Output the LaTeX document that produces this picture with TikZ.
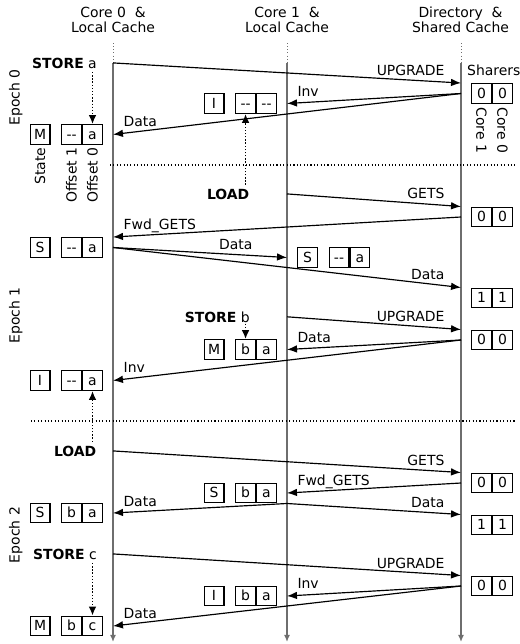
\documentclass[tikz,border=0pt]{standalone}
\usepackage{fontspec}
\setmainfont{DejaVu Sans}
\usepackage{tikz}
\usetikzlibrary{arrows.meta, positioning}
\definecolor{lifegray}{RGB}{110,110,110}

\begin{document}
\begin{tikzpicture}[
    x=0.03cm, y=-0.03cm,
    every node/.style={font=\fontsize{11.9}{12.8}\selectfont, inner sep=0}
]
    % Define styles for the nodes
    \tikzstyle{cbox} = [
        draw, line width=0.9pt, minimum width=17pt,
        minimum height=17pt, text height=8.5pt, text depth=0pt
    ]
    \tikzstyle{msg} = [line width=1pt, -{Latex[length=8.5pt, width=6.5pt]}]
    \tikzstyle{op} = [
        dash pattern=on 1.2pt off 1.5pt, line width=1.3pt,
        -{Latex[length=7.5pt, width=6.5pt]}
    ]
    \tikzstyle{life} = [lifegray, line width=1.1pt, -{Latex[length=6pt, width=5pt]}]
    \tikzstyle{lifetop} = [lifegray, dotted, line width=0.7pt]
    \tikzstyle{epoch_line} = [dotted, line width=0.9pt]
    \tikzstyle{lbl_r} = [anchor=base east, yshift=5.5pt]
    \tikzstyle{lbl_l} = [anchor=base west, yshift=5.5pt]

    \useasboundingbox (0,0) rectangle (519,644);

    % Headers
    \node[align=center] (h0) at (113,19.5) {Core 0 ~\&\\Local Cache};
    \node[align=center] (h1) at (287,19.5) {Core 1 ~\&\\Local Cache};
    \node[align=center] (hd) at (460.5,19.5) {Directory ~\&\\Shared Cache};

    % Lifelines
    \coordinate (core0top) at (113,43);
    \coordinate (core0) at (113,63);
    \coordinate (core0end) at (113,642);
    \coordinate (core1top) at (287,43);
    \coordinate (core1) at (287,63);
    \coordinate (core1end) at (287,642);
    \coordinate (dirtop) at (461,43);
    \coordinate (dir) at (461,63);
    \coordinate (dirend) at (461,642);
    \draw[lifetop] (core0top) -- (core0);
    \draw[lifetop] (core1top) -- (core1);
    \draw[lifetop] (dirtop) -- (dir);
    \draw[life] (core0) -- (core0end);
    \draw[life] (core1) -- (core1end);
    \draw[life] (dir) -- (dirend);

    % Epoch dividers
    \coordinate (ep1a) at (110,165);
    \coordinate (ep1b) at (515,165);
    \coordinate (ep2a) at (31,421);
    \coordinate (ep2b) at (515,421);
    \draw[epoch_line] (ep1a) -- (ep1b);
    \draw[epoch_line] (ep2a) -- (ep2b);

    % Epoch labels
    \node[rotate=90] (ep0) at (15.7,97.5) {Epoch 0};
    \node[rotate=90] (ep1) at (15.7,315.5) {Epoch 1};
    \node[rotate=90] (ep2) at (15.7,535) {Epoch 2};

    % Directory sharers
    \node[cbox, anchor=west] (dac1) at (471,93.5) {0};
    \node[cbox, anchor=west] (dac0) at (dac1.east) {0};
    \node[cbox, anchor=west] (dbc1) at (471,217) {0};
    \node[cbox, anchor=west] (dbc0) at (dbc1.east) {0};
    \node[cbox, anchor=west] (dcc1) at (471,298) {1};
    \node[cbox, anchor=west] (dcc0) at (dcc1.east) {1};
    \node[cbox, anchor=west] (ddc1) at (471,340) {0};
    \node[cbox, anchor=west] (ddc0) at (ddc1.east) {0};
    \node[cbox, anchor=west] (dec1) at (471,483) {0};
    \node[cbox, anchor=west] (dec0) at (dec1.east) {0};
    \node[cbox, anchor=west] (dfc1) at (471,525) {1};
    \node[cbox, anchor=west] (dfc0) at (dfc1.east) {1};
    \node[cbox, anchor=west] (dgc1) at (471,586) {0};
    \node[cbox, anchor=west] (dgc0) at (dgc1.east) {0};

    % Labels for sharers
    \node[anchor=base west] (sharers) at (467,75) {Sharers};
    \node[rotate=-90, anchor=west] (lcore1) at ([yshift=-3pt]dac1.south) {Core 1};
    \node[rotate=-90, anchor=west] (lcore0) at ([yshift=-3pt]dac0.south) {Core 0};

    % Core 0 cache lines
    \node[cbox, anchor=east] (c0ao0) at (103,134.5) {a};
    \node[cbox, anchor=east] (c0ao1) at (c0ao0.west) {{-}{-}};
    \node[cbox, left=9pt of c0ao1] (c0as) {M};
    \node[cbox, anchor=east] (c0bo0) at (103,247.5) {a};
    \node[cbox, anchor=east] (c0bo1) at (c0bo0.west) {{-}{-}};
    \node[cbox, left=9pt of c0bo1] (c0bs) {S};
    \node[cbox, anchor=east] (c0co0) at (103,380.5) {a};
    \node[cbox, anchor=east] (c0co1) at (c0co0.west) {{-}{-}};
    \node[cbox, left=9pt of c0co1] (c0cs) {I};
    \node[cbox, anchor=east] (c0do0) at (103,513) {a};
    \node[cbox, anchor=east] (c0do1) at (c0do0.west) {b};
    \node[cbox, left=9pt of c0do1] (c0ds) {S};
    \node[cbox, anchor=east] (c0eo0) at (103,626) {c};
    \node[cbox, anchor=east] (c0eo1) at (c0eo0.west) {b};
    \node[cbox, left=9pt of c0eo1] (c0es) {M};

    % Labels for the cache line fields
    \node[rotate=90, anchor=east] (lstate) at ([yshift=-2pt]c0as.south) {State};
    \node[rotate=90, anchor=east] (loff1) at ([yshift=-2pt]c0ao1.south) {Offset 1};
    \node[rotate=90, anchor=east] (loff0) at ([yshift=-2pt]c0ao0.south) {Offset 0};

    % Core 1 cache lines
    \node[cbox, anchor=east] (c1ao0) at (277,103.5) {{-}{-}};
    \node[cbox, anchor=east] (c1ao1) at (c1ao0.west) {{-}{-}};
    \node[cbox, left=9pt of c1ao1] (c1as) {I};
    \node[cbox, anchor=west] (c1bs) at (297,257.5) {S};
    \node[cbox, right=9pt of c1bs] (c1bo1) {{-}{-}};
    \node[cbox, anchor=west] (c1bo0) at (c1bo1.east) {a};
    \node[cbox, anchor=east] (c1co0) at (277,349.5) {a};
    \node[cbox, anchor=east] (c1co1) at (c1co0.west) {b};
    \node[cbox, left=9pt of c1co1] (c1cs) {M};
    \node[cbox, anchor=east] (c1do0) at (277,493) {a};
    \node[cbox, anchor=east] (c1do1) at (c1do0.west) {b};
    \node[cbox, left=9pt of c1do1] (c1ds) {S};
    \node[cbox, anchor=east] (c1eo0) at (277,596) {a};
    \node[cbox, anchor=east] (c1eo1) at (c1eo0.west) {b};
    \node[cbox, left=9pt of c1eo1] (c1es) {I};

    % Core operations
    \node[anchor=base east] (st0) at (97,68) {\textbf{STORE} a};
    \node[anchor=base east] (ld1) at (249.5,199) {\textbf{LOAD}};
    \node[anchor=base east] (st1) at (250,322) {\textbf{STORE} b};
    \node[anchor=base east] (ld2) at (96.5,456) {\textbf{LOAD}};
    \node[anchor=base east] (st2) at (97,559) {\textbf{STORE} c};

    \draw[op, shorten <=3pt] (st0.south -| c0ao0) -- (c0ao0.north);
    \draw[op, shorten <=3pt] (ld1.north -| c1ao1) -- (c1ao1.south);
    \draw[op, shorten <=1pt] (st1.south -| c1co1) -- (c1co1.north);
    \draw[op, shorten <=3pt] (ld2.north -| c0co0) -- (c0co0.south);
    \draw[op, shorten <=3pt] (st2.south -| c0eo0) -- (c0eo0.north);

    % Epoch 0 messages
    \draw[msg] (st0 -| core0) -- (dac1.north -| dir)
        node[lbl_r, pos=0.954] {UPGRADE};
    \draw[msg] (dac1 -| dir) -- (c1ao0 -| core1)
        node[lbl_l, pos=0.943] {Inv};
    \draw[msg] (dac1 -| dir) -- (c0ao0 -| core0)
        node[lbl_l, pos=0.971] {Data};

    % Epoch 1 messages
    \draw[msg] (ld1 -| core1) -- (dbc1.north -| dir)
        node[lbl_r, pos=0.908] {GETS};
    \draw[msg] (dbc1 -| dir) -- (c0bo0.north -| core0)
        node[lbl_l, pos=0.971] {Fwd\_GETS};
    \draw[msg] (c0bo0 -| core0) -- (c1bs -| core1)
        node[lbl_r, pos=0.805] {Data};
    \draw[msg] (c0bo0 -| core0) -- (dcc1.north -| dir)
        node[lbl_r, pos=0.954] {Data};
    \draw[msg] (st1 -| core1) -- (ddc1.north -| dir)
        node[lbl_r, pos=0.908] {UPGRADE};
    \draw[msg] (ddc1 -| dir) -- (c1co0 -| core1)
        node[lbl_l, pos=0.943] {Data};
    \draw[msg] (ddc1 -| dir) -- (c0co0 -| core0)
        node[lbl_l, pos=0.971] {Inv};

    % Epoch 2 messages
    \draw[msg] (ld2 -| core0) -- (dec1.north -| dir)
        node[lbl_r, pos=0.954] {GETS};
    \draw[msg] (dec1 -| dir) -- (c1do0 -| core1)
        node[lbl_l, pos=0.943] {Fwd\_GETS};
    \draw[msg] (c1do0.south -| core1) -- (c0do0 -| core0)
        node[lbl_l, pos=0.943] {Data};
    \draw[msg] (c1do0.south -| core1) -- (dfc1.north -| dir)
        node[lbl_r, pos=0.908] {Data};
    \draw[msg] (st2 -| core0) -- (dgc1.north -| dir)
        node[lbl_r, pos=0.954] {UPGRADE};
    \draw[msg] (dgc1 -| dir) -- (c1eo0 -| core1)
        node[lbl_l, pos=0.943] {Inv};
    \draw[msg] (dgc1 -| dir) -- (c0eo0 -| core0)
        node[lbl_l, pos=0.971] {Data};

\end{tikzpicture}
\end{document}
